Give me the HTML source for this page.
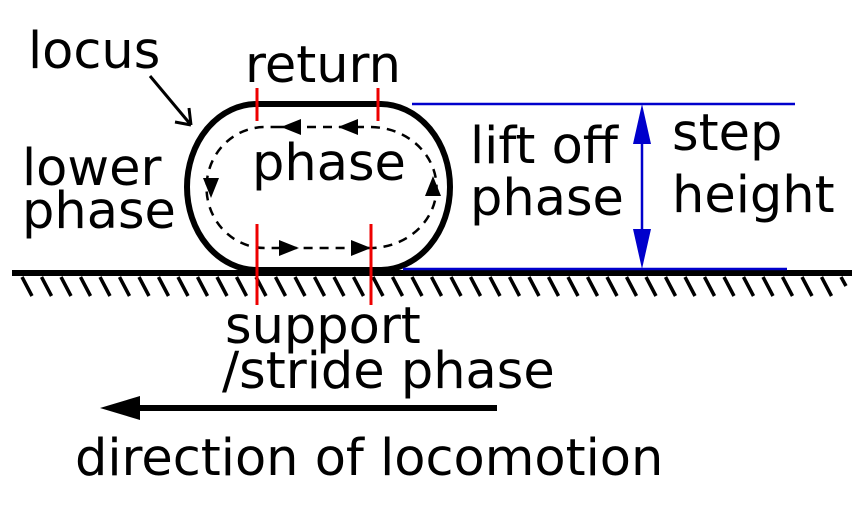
<!DOCTYPE html>
<html><head><style>body{margin:0;background:#fff}svg{display:block}</style></head><body>
<svg width="864" height="512" viewBox="0 0 864 512" xmlns="http://www.w3.org/2000/svg" font-family="DejaVu Sans, sans-serif" font-size="51">
<rect width="864" height="512" fill="#fff"/>
<line x1="12" y1="273" x2="852" y2="273" stroke="#000" stroke-width="6"/>
<g stroke="#000" stroke-width="3.5">
<path d="M22 277 l10 19 M41.5 277 l10 19 M61 277 l10 19 M80.5 277 l10 19 M100 277 l10 19 M119.5 277 l10 19 M139 277 l10 19 M158.5 277 l10 19 M178 277 l10 19 M197.5 277 l10 19 M217 277 l10 19 M236.5 277 l10 19 M256 277 l10 19 M275.5 277 l10 19 M295 277 l10 19 M314.5 277 l10 19 M334 277 l10 19 M353.5 277 l10 19 M373 277 l10 19 M392.5 277 l10 19 M412 277 l10 19 M431.5 277 l10 19 M451 277 l10 19 M470.5 277 l10 19 M490 277 l10 19 M509.5 277 l10 19 M529 277 l10 19 M548.5 277 l10 19 M568 277 l10 19 M587.5 277 l10 19 M607 277 l10 19 M626.5 277 l10 19 M646 277 l10 19 M665.5 277 l10 19 M685 277 l10 19 M704.5 277 l10 19 M724 277 l10 19 M743.5 277 l10 19 M763 277 l10 19 M782.5 277 l10 19 M802 277 l10 19 M821.5 277 l10 19 M841 277 l5 9"/>
</g>
<path d="M257 104 H380 A70 83 0 0 1 380 270 H257 A70 83 0 0 1 257 104 Z" fill="none" stroke="#000" stroke-width="6"/>
<path d="M275 127 H370 A66 60 0 0 1 370 248 H265 A58 60 0 0 1 265 127 Z" fill="none" stroke="#000" stroke-width="2.5" stroke-dasharray="9 7"/>
<g fill="#000">
<path d="M281 127 l20 -8 v16z"/><path d="M338 127 l20 -8 v16z"/>
<path d="M299 248 l-20 -8 v16z"/><path d="M371 248 l-20 -8 v16z"/>
<path d="M211 198 l-8 -20 h16z"/><path d="M433 176 l-8 20 h16z"/>
</g>
<g stroke="#e00" stroke-width="3">
<line x1="257" y1="88" x2="257" y2="121"/><line x1="378" y1="88" x2="378" y2="121"/>
<line x1="257" y1="224" x2="257" y2="305"/><line x1="371" y1="224" x2="371" y2="305"/>
</g>
<g stroke="#00c" stroke-width="2.5">
<line x1="412" y1="104" x2="795" y2="104"/><line x1="403" y1="269" x2="787" y2="269"/>
<line x1="642" y1="120" x2="642" y2="252"/>
</g>
<path d="M642 104 l-9 40 h18z M642 269 l-9 -40 h18z" fill="#00c"/>
<path d="M150 76 L191 125 M191 125 l-2 -17 M191 125 l-16 -3" stroke="#000" stroke-width="3" fill="none"/>
<line x1="497" y1="408" x2="135" y2="408" stroke="#000" stroke-width="6"/>
<path d="M100 408 l40 -12 v24z" fill="#000"/>
<g fill="#000">
<text x="28" y="68">locus</text>
<text x="245" y="82">return</text>
<text x="252" y="180">phase</text>
<text x="22" y="185">lower</text>
<text x="22" y="228">phase</text>
<text x="470" y="163">lift off</text>
<text x="470" y="215">phase</text>
<text x="672" y="150">step</text>
<text x="672" y="212">height</text>
<text x="225" y="343">support</text>
<text x="222" y="388">/stride phase</text>
<text x="75" y="475">direction of locomotion</text>
</g>
</svg>
</body></html>
